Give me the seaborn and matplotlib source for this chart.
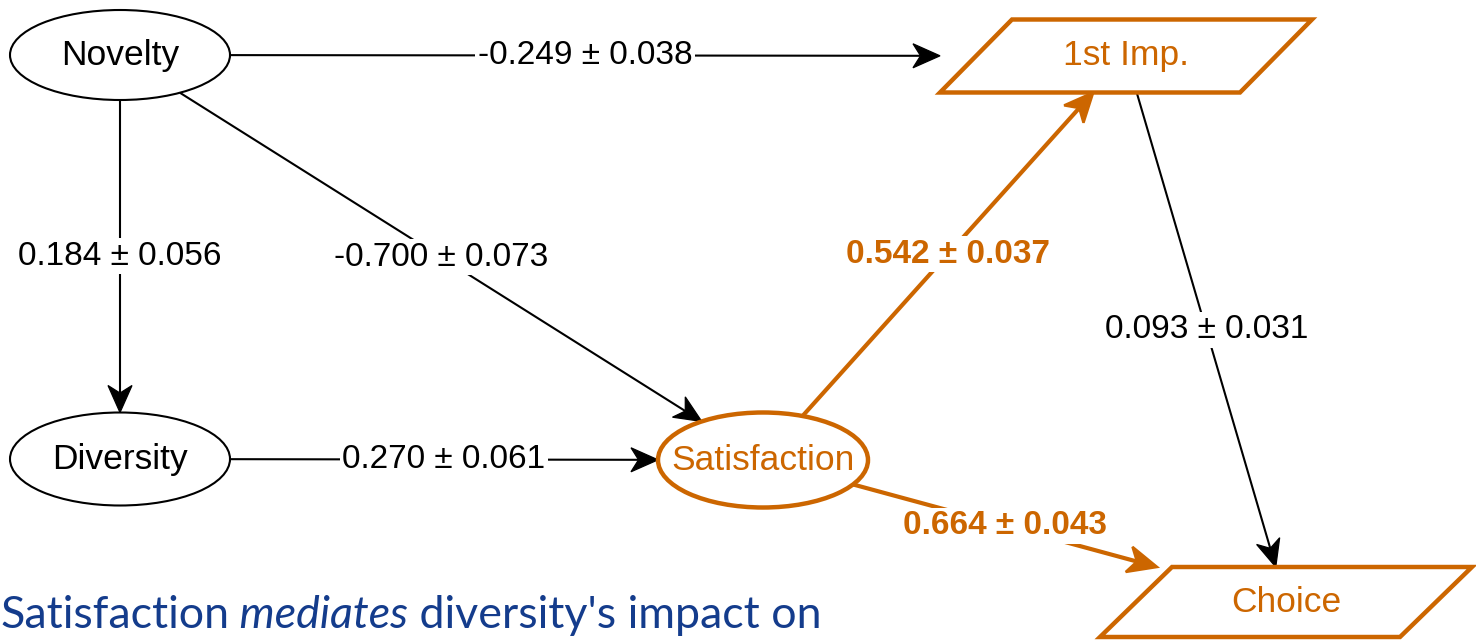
import numpy as np
import matplotlib
matplotlib.use("Agg")
import matplotlib.pyplot as plt
import seaborn as sns
from matplotlib.patches import Ellipse, Polygon

# path model: nodes and estimated coefficients (value +- std. error)
node_names = ["Novelty", "Diversity", "Satisfaction", "1st Imp.", "Choice"]
node_kind = ["ellipse", "ellipse", "ellipse", "para", "para"]
node_hl = [False, False, True, True, True]

edge_src = ["Novelty", "Novelty", "Novelty", "Diversity", "Satisfaction", "Satisfaction", "1st Imp."]
edge_dst = ["1st Imp.", "Diversity", "Satisfaction", "Satisfaction", "1st Imp.", "Choice", "Choice"]
edge_coef = [-0.249, 0.184, -0.700, 0.270, 0.542, 0.664, 0.093]
edge_se = [0.038, 0.056, 0.073, 0.061, 0.037, 0.043, 0.031]
edge_hl = [False, False, False, False, True, True, False]

caption = ["Satisfaction", " mediates", " diversity's impact on"]

# layout (pixel coordinates, y downwards)
layout = {
    "Novelty": (120, 55, 220, 90),
    "Diversity": (120, 459, 220, 93),
    "Satisfaction": (763, 460, 210, 95),
    "1st Imp.": (1126, 56, 372, 73),
    "Choice": (1286, 602, 372, 70),
}
SKEW = 72
ORANGE = "#CC6600"
BLUE = "#143C8C"

sns.set_theme(style="white")
plt.rcParams["font.family"] = ["Liberation Sans", "DejaVu Sans"]

fig = plt.figure(figsize=(14.76, 6.42), dpi=100)
ax = fig.add_axes([0, 0, 1, 1])
ax.set_xlim(0, 1476)
ax.set_ylim(642, 0)
ax.set_axis_off()
sns.despine(ax=ax, left=True, bottom=True)


def boundary(name, toward):
    cx, cy, w, h = layout[name]
    dx, dy = toward[0] - cx, toward[1] - cy
    kind = node_kind[node_names.index(name)]
    if kind == "ellipse":
        t = 1.0 / np.sqrt((dx / (w / 2)) ** 2 + (dy / (h / 2)) ** 2)
    else:
        tx = (w / 2) / abs(dx) if dx != 0 else np.inf
        ty = (h / 2) / abs(dy) if dy != 0 else np.inf
        t = min(tx, ty)
    return np.array([cx + t * dx, cy + t * dy])


def head(tip, frm, col, lw, L=27, W=24):
    # notched "classic" arrow head
    u = (tip - frm) / np.linalg.norm(tip - frm)
    n = np.array([-u[1], u[0]])
    pts = [tip, tip - L * u + W / 2 * n, tip - 0.72 * L * u, tip - L * u - W / 2 * n]
    ax.add_patch(Polygon(pts, closed=True, fc=col, ec=col, lw=lw * 0.6, zorder=2.5))
    return tip - 0.72 * L * u


# nodes
for name, kind, hl in zip(node_names, node_kind, node_hl):
    cx, cy, w, h = layout[name]
    col = ORANGE if hl else "black"
    lw = 3.2 if hl else 1.5
    if kind == "ellipse":
        shp = Ellipse((cx, cy), w, h, fc="white", ec=col, lw=lw, zorder=3)
    else:
        x0, x1 = cx - w / 2, cx + w / 2
        y0, y1 = cy - h / 2, cy + h / 2
        verts = [(x0, y1), (x1 - SKEW, y1), (x1, y0), (x0 + SKEW, y0)]
        shp = Polygon(verts, closed=True, fc="white", ec=col, lw=lw, zorder=3, joinstyle="miter")
    ax.add_patch(shp)
    ax.text(cx, cy, name, ha="center", va="center", fontsize=25.5, color=col, zorder=4)

# edges
for s, d, c, e, hl in zip(edge_src, edge_dst, edge_coef, edge_se, edge_hl):
    ps = boundary(s, layout[d][:2])
    pd_ = boundary(d, layout[s][:2])
    col = ORANGE if hl else "black"
    lw = 3.0 if hl else 1.5
    back = head(pd_, ps, col, lw, L=29 if hl else 27, W=26 if hl else 24)
    ax.plot([ps[0], back[0]], [ps[1], back[1]], color=col, lw=lw, zorder=2,
            solid_capstyle="butt")
    mx, my = (ps + pd_) / 2
    ax.text(mx, my, f"{c:.3f} ± {e:.3f}", ha="center", va="center", fontsize=24,
            color=col, fontweight="bold" if hl else "normal", zorder=5,
            bbox=dict(boxstyle="square,pad=0.08", fc="white", ec="none"))

# caption with italic word
cap_font = ["Lato", "DejaVu Sans"]
t = ax.text(0, 628, caption[0], ha="left", va="baseline", fontsize=32.2,
            color=BLUE, family=cap_font)
t2 = ax.annotate(caption[1], xy=(1, 0), xycoords=t, ha="left", va="bottom", fontsize=32.2,
                 color=BLUE, style="italic", family=cap_font)
ax.annotate(caption[2], xy=(1, 0), xycoords=t2, ha="left", va="bottom", fontsize=32.2,
            color=BLUE, family=cap_font)

fig.savefig("out.png", dpi=100)
